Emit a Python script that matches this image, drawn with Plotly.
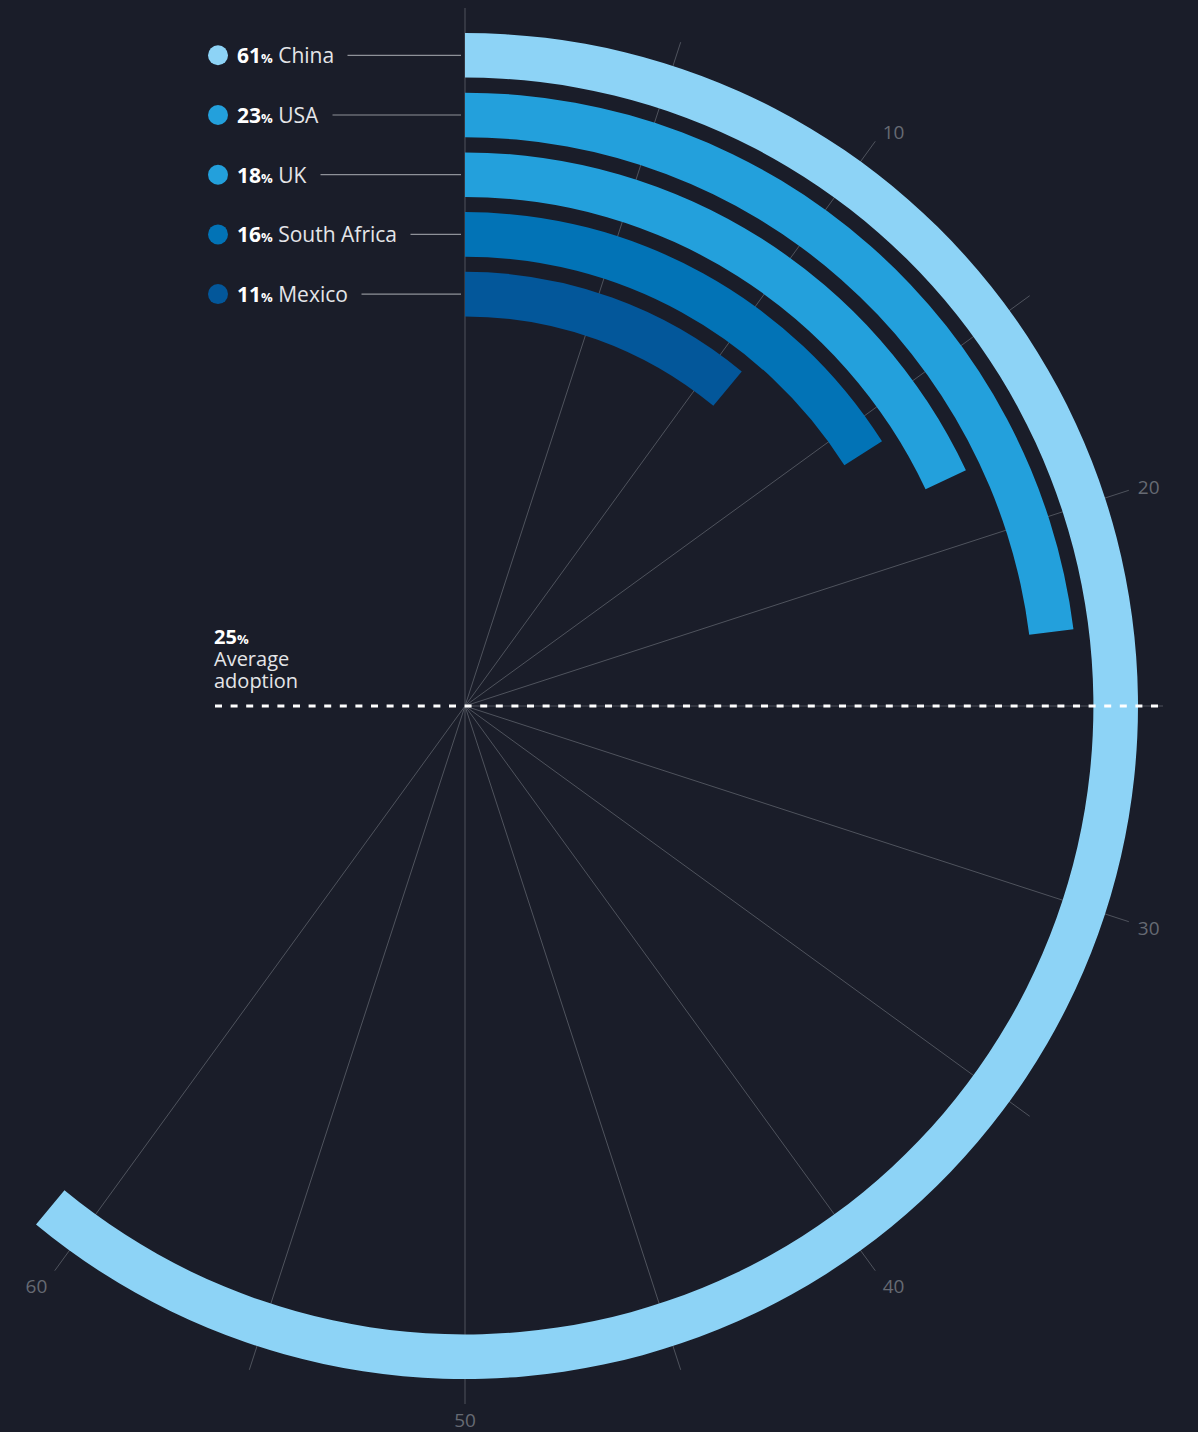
import math
import plotly.graph_objects as go

# ---------------- data ----------------
countries = ["China", "USA", "UK", "South Africa", "Mexico"]
adoption = [61, 23, 18, 16, 11]            # % adoption
average_adoption = 25                      # %
average_label = ["Average", "adoption"]
grid_values = list(range(0, 65, 5))        # spokes every 5 %
labeled_ticks = [10, 20, 30, 40, 50, 60]   # labelled spokes

# ---------------- styles ----------------
bar_colors = ["#8DD3F6", "#23A0DC", "#23A0DC", "#0273B6", "#03579A"]
BG = "#1A1D29"
GRID = "#4F535D"
TICKC = "#666A73"
LEADER = "#8E9198"
FONT = "Open Sans"
NBSP = "\u00a0"

W, H = 1198, 1432
CX, CY = 465, 706          # centre of the polar chart (px)
R = 698                    # outer radius of the polar area (px)
DEG = 3.6                  # degrees per percentage point
OUTER0 = 673               # outer radius of the first ring
PITCH = 59.7               # ring spacing
THICK = 44.6               # ring thickness

fig = go.Figure()

# ---------------- rings ----------------
for i, (c, v, col) in enumerate(zip(countries, adoption, bar_colors)):
    outer = OUTER0 - PITCH * i
    fig.add_trace(go.Barpolar(
        r=[THICK], base=[outer - THICK],
        theta=[v * DEG / 2], width=[v * DEG],
        marker=dict(color=col, line=dict(width=0)),
        name=c, showlegend=False, hoverinfo="skip", subplot="polar",
    ))

# polar sector and domain so that the centre lands at (CX, CY) with radius R
max_deg = max(adoption) * DEG
sector = [90 - max_deg - 0.5, 90]
xmin_unit = min(0.0, math.cos(math.radians(sector[0])))
left_px = CX + xmin_unit * R
right_px = CX + R
e = 2
dom_x = [(left_px - e) / W, (right_px + e) / W]
dom_y = [(H - (CY + R)) / H, (H - (CY - R)) / H]


def tick_label(g):
    if g not in labeled_ticks:
        return ""
    ang = (g * DEG) % 360
    s = str(g)
    if 0 < ang < 180:          # right side: text starts at the spoke end
        return NBSP + s
    if 180 < ang < 360:        # left side: text ends at the spoke end
        return s + NBSP
    return s


tick_text = [tick_label(g) for g in grid_values]

# ---------------- legend-like labels (cartesian overlay, 1 unit = 1 px) ----------------
row_y = [OUTER0 - PITCH * i - THICK / 2 for i in range(len(countries))]
fig.add_trace(go.Scatter(
    x=[-247] * len(countries), y=row_y, mode="markers",
    marker=dict(size=20, color=bar_colors, line=dict(width=0)),
    showlegend=False, hoverinfo="skip",
))

annotations = []
for c, v, y in zip(countries, adoption, row_y):
    annotations.append(dict(
        xref="x", yref="y", axref="x", ayref="y",
        x=-4, y=y, ax=-229, ay=y,
        xanchor="left", yanchor="middle",
        text=(f"<b>{v}</b><b><span style='font-size:13px'>%</span></b>"
              f" <span style='color:#E4E5E8'>{c}</span>"),
        font=dict(family=FONT, size=21, color="#FFFFFF"),
        showarrow=True, arrowhead=0, arrowwidth=1.2, arrowcolor=LEADER,
        startstandoff=13, standoff=0, borderpad=0,
    ))

# average annotation: one block, tight line spacing
avg_text = (f"<span style='font-size:20px'><b>{average_adoption}</b></span>"
            f"<b><span style='font-size:13px'>%</span></b>")
for line in average_label:
    avg_text += f"<br><span style='font-size:20px;color:#E4E5E8'>{line}</span>"
annotations.append(dict(
    xref="x", yref="y", x=-253, y=48, xanchor="left", yanchor="middle",
    text=avg_text, align="left",
    font=dict(family=FONT, size=17, color="#FFFFFF"), showarrow=False,
))

# dashed average line (angle from the average value)
a = math.radians(average_adoption * DEG)
shapes = [dict(
    type="line", xref="x", yref="y", layer="above",
    x0=-250 * math.sin(a), y0=-250 * math.cos(a),
    x1=(R + 2) * math.sin(a), y1=(R + 2) * math.cos(a),
    line=dict(color="#FFFFFF", width=3, dash="7px,8.6px"),
)]

fig.update_layout(
    width=W, height=H,
    margin=dict(l=0, r=0, t=0, b=0),
    paper_bgcolor=BG, plot_bgcolor="rgba(0,0,0,0)",
    showlegend=False,
    xaxis=dict(domain=[0, 1], range=[-CX, W - CX], visible=False, fixedrange=True),
    yaxis=dict(domain=[0, 1], range=[CY - H, CY], visible=False, fixedrange=True),
    polar=dict(
        domain=dict(x=dom_x, y=dom_y),
        sector=sector,
        bgcolor="rgba(0,0,0,0)",
        hole=0,
        radialaxis=dict(range=[0, R], visible=False, showgrid=False, showline=False),
        angularaxis=dict(
            rotation=90, direction="clockwise", thetaunit="degrees",
            tickmode="array",
            tickvals=[g * DEG for g in grid_values], ticktext=tick_text,
            showgrid=True, gridcolor=GRID, gridwidth=1,
            showline=False, ticks="outside", ticklen=0, tickcolor="rgba(0,0,0,0)",
            tickfont=dict(family=FONT, size=19, color=TICKC),
        ),
    ),
    annotations=annotations,
    shapes=shapes,
)

fig.write_html(
    "out.html",
    config={"displayModeBar": False},
    post_script="document.body.style.margin='0';document.body.style.background='%s';" % BG,
)
